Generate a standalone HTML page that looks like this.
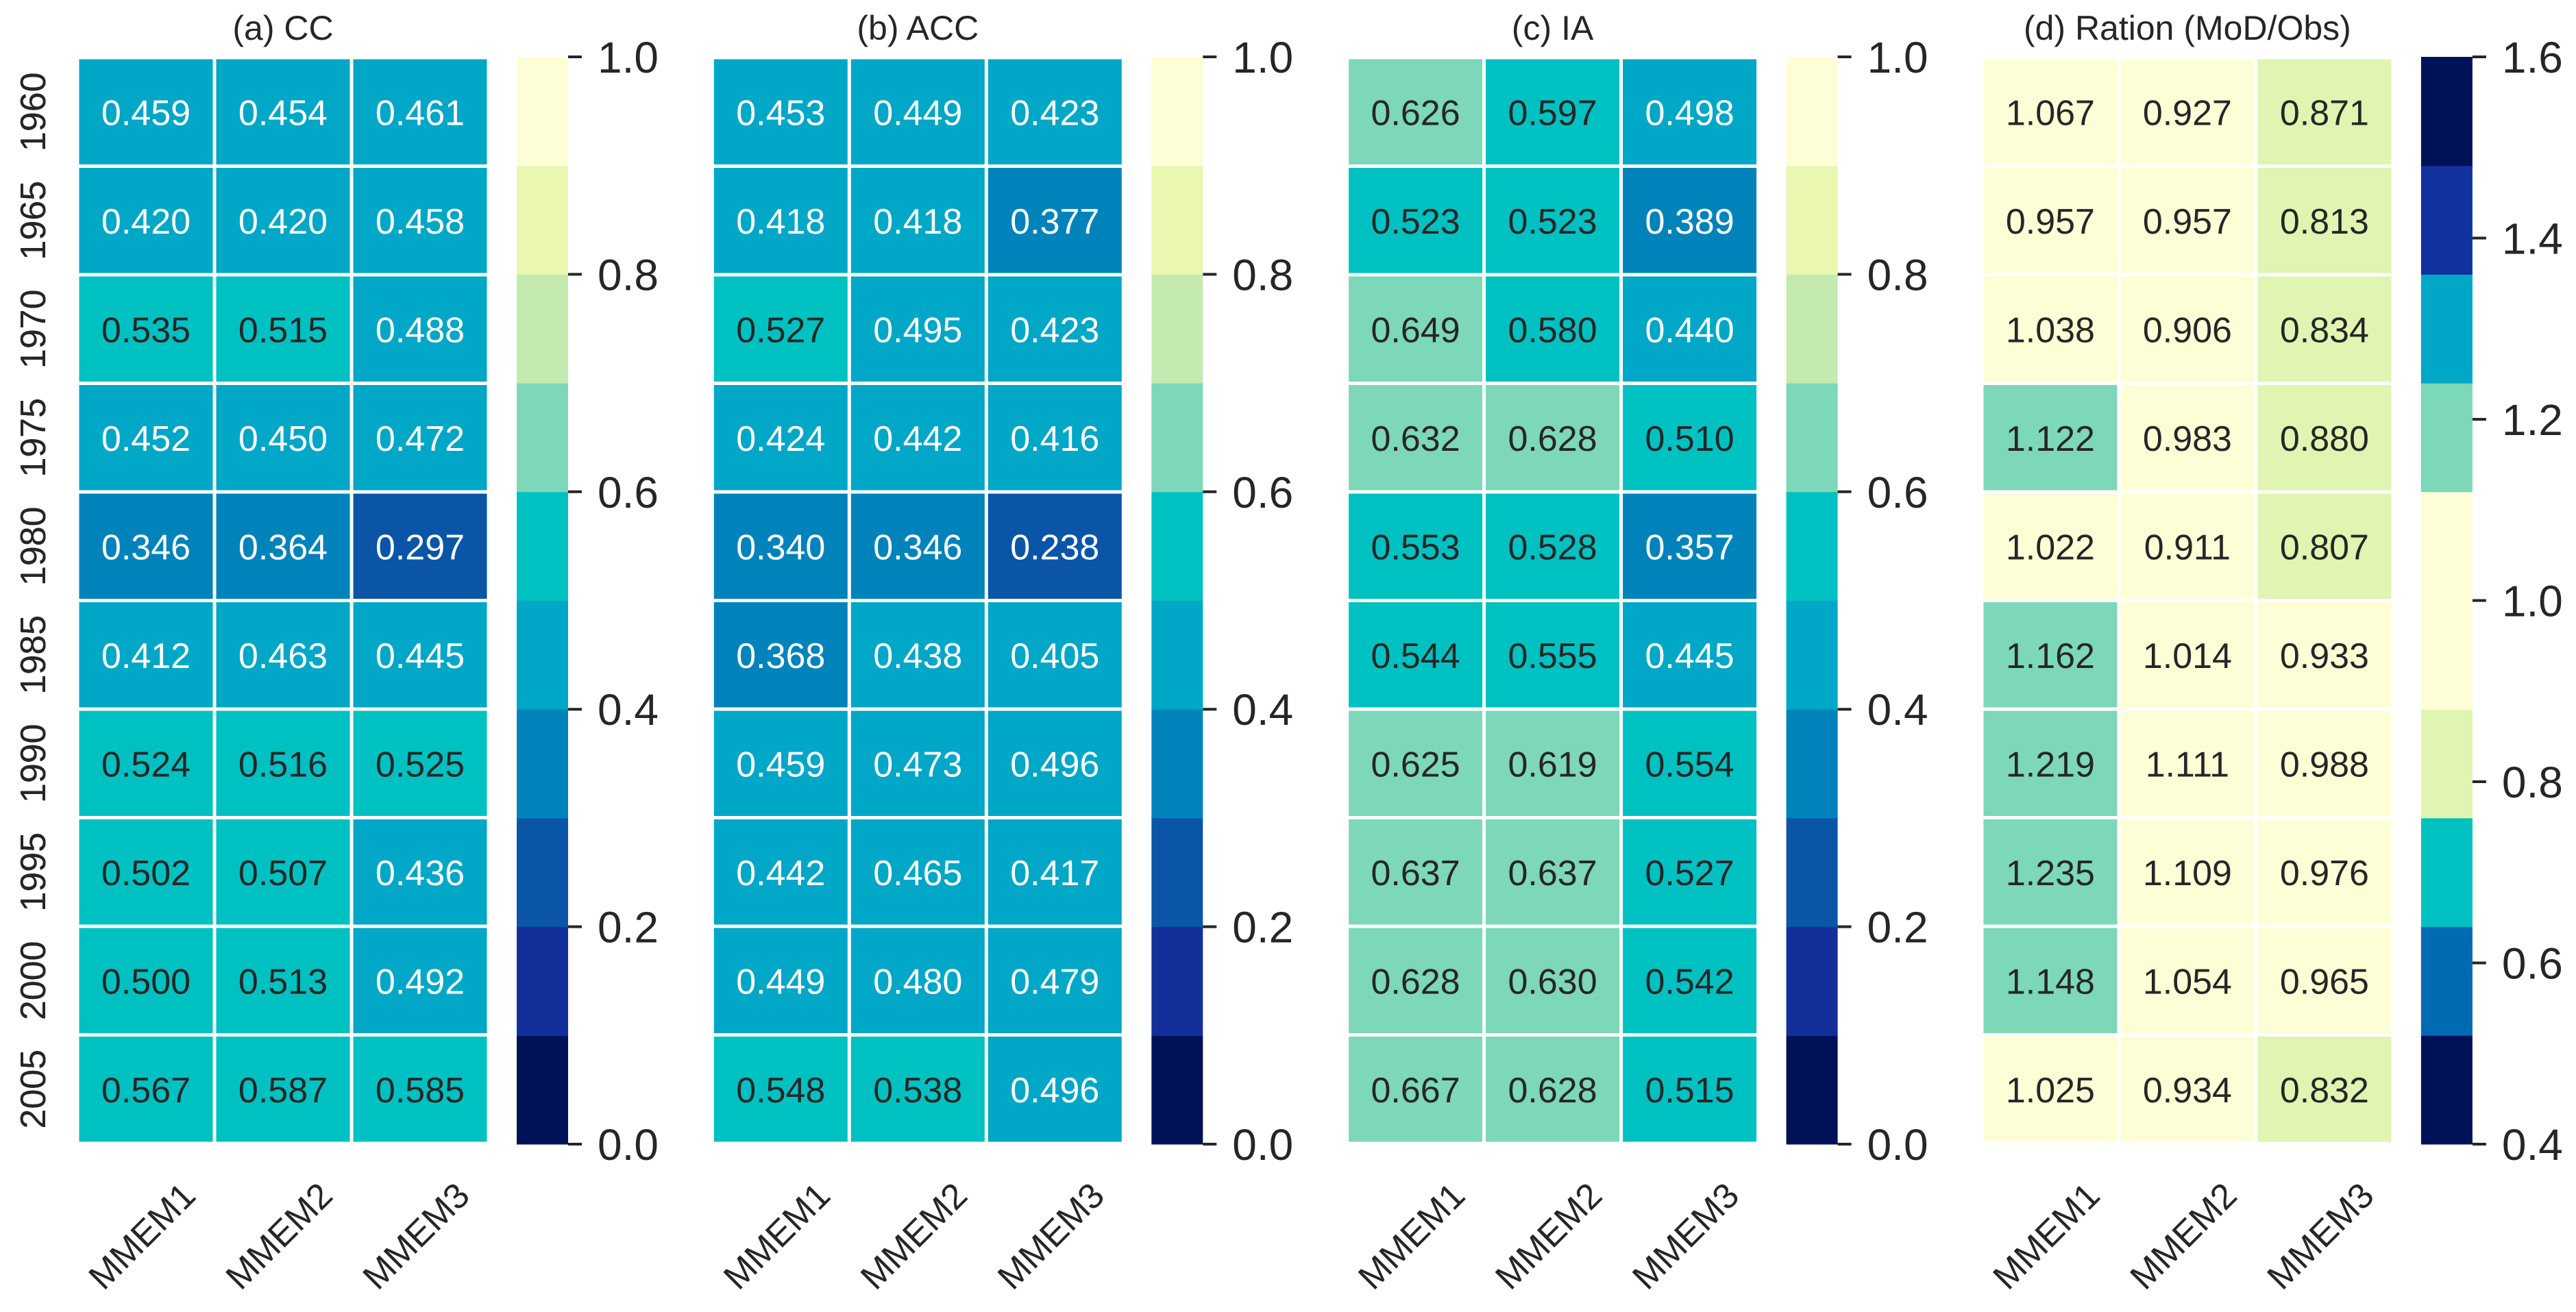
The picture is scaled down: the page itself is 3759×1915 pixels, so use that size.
<!DOCTYPE html>
<html><head><meta charset="utf-8">
<style>
html,body{margin:0;padding:0;background:#fff;}
svg{display:block;font-family:"Liberation Sans",Arial,sans-serif;}
</style></head>
<body>
<svg id="chart" width="3759" height="1915" viewBox="0 0 3759 1915" xmlns="http://www.w3.org/2000/svg"></svg>
<script>
const years = ["1960","1965","1970","1975","1980","1985","1990","1995","2000","2005"];
const models = ["MMEM1","MMEM2","MMEM3"];
const titles = ["(a) CC","(b) ACC","(c) IA","(d) Ration (MoD/Obs)"];
const valuesCC = [[0.459,0.454,0.461],[0.420,0.420,0.458],[0.535,0.515,0.488],[0.452,0.450,0.472],[0.346,0.364,0.297],[0.412,0.463,0.445],[0.524,0.516,0.525],[0.502,0.507,0.436],[0.500,0.513,0.492],[0.567,0.587,0.585]];
const valuesACC = [[0.453,0.449,0.423],[0.418,0.418,0.377],[0.527,0.495,0.423],[0.424,0.442,0.416],[0.340,0.346,0.238],[0.368,0.438,0.405],[0.459,0.473,0.496],[0.442,0.465,0.417],[0.449,0.480,0.479],[0.548,0.538,0.496]];
const valuesIA = [[0.626,0.597,0.498],[0.523,0.523,0.389],[0.649,0.580,0.440],[0.632,0.628,0.510],[0.553,0.528,0.357],[0.544,0.555,0.445],[0.625,0.619,0.554],[0.637,0.637,0.527],[0.628,0.630,0.542],[0.667,0.628,0.515]];
const valuesRatio = [[1.067,0.927,0.871],[0.957,0.957,0.813],[1.038,0.906,0.834],[1.122,0.983,0.880],[1.022,0.911,0.807],[1.162,1.014,0.933],[1.219,1.111,0.988],[1.235,1.109,0.976],[1.148,1.054,0.965],[1.025,0.934,0.832]];
const ticksABC = [0.0,0.2,0.4,0.6,0.8,1.0];
const ticksD = [0.4,0.6,0.8,1.0,1.2,1.4,1.6];
const rangeABC = [0.0,1.0];
const rangeD = [0.4,1.6];
// colors from low to high bins
const colorsABC = ["#001257","#13309a","#0a55a8","#0083bb","#00a7c7","#00c1c1","#7dd7b9","#c4eab0","#eaf7b0","#fdfed6"];
const colorsD = ["#001257","#006ab3","#00c1c1","#e0f5b1","#fdfed6","#fdfed6","#7dd7b9","#00a7c7","#11319c","#001257"];
const darkTextABC = [0,0,0,0,0,1,1,1,1,1];
const darkTextD = [0,0,1,1,1,1,1,0,0,0];

const svg = document.getElementById('chart');
const NS = "http://www.w3.org/2000/svg";
function mk(tag, attrs, parent){const e=document.createElementNS(NS,tag);for(const k in attrs)e.setAttribute(k,attrs[k]);(parent||svg).appendChild(e);return e;}

const panels = [
 {vals:valuesCC, colors:colorsABC, dark:darkTextABC, range:rangeABC, ticks:ticksABC, name:'cc'},
 {vals:valuesACC, colors:colorsABC, dark:darkTextABC, range:rangeABC, ticks:ticksABC, name:'acc'},
 {vals:valuesIA, colors:colorsABC, dark:darkTextABC, range:rangeABC, ticks:ticksABC, name:'ia'},
 {vals:valuesRatio, colors:colorsD, dark:darkTextD, range:rangeD, ticks:ticksD, name:'ratio'}
];
const top0 = 84, bottom0 = 1669, colW = 200, pitch = 926.3, left0 = 113;
const rowH = (bottom0-top0)/years.length;

panels.forEach((p,pi)=>{
  const x0 = left0 + pi*pitch;
  const g = mk('g',{});
  
  
  const nb = p.colors.length;
  const step = (p.range[1]-p.range[0])/nb;
  const bin = v => Math.max(0, Math.min(nb-1, Math.floor((v-p.range[0])/step)));
  const xS = j => x0 + j*colW;
  const yS = i => top0 + i*rowH;
  // title
  const t = mk('text',{x:x0+colW*1.5, y:58, 'text-anchor':'middle','font-size':50, fill:'#262626'}, g);
  t.textContent = titles[pi];
  
  
  // cells
  p.vals.forEach((row,i)=>{
    row.forEach((v,j)=>{
      const b = bin(v);
      const r = mk('rect',{x:xS(j)+2.5, y:yS(i)+2.5, width:colW-5, height:rowH-5, fill:p.colors[b]}, g);
      
      
      const tx = mk('text',{x:xS(j)+colW/2, y:yS(i)+rowH/2+19, 'text-anchor':'middle','font-size':52, fill:p.dark[b]?'#262626':'#ffffff'}, g);
      tx.textContent = v.toFixed(3);
      
      
    });
  });
  // year labels
  years.forEach((yr,i)=>{
    const cy = yS(i)+rowH/2, cx = 66;
    const yl = mk('text',{x:cx, y:cy, 'text-anchor':'middle','font-size':52, fill:'#262626', transform:'rotate(-90 '+cx+' '+cy+')'}, g);
    yl.textContent = yr;
    
    
  });
  // model labels
  models.forEach((m,j)=>{
    const cx = xS(j)+colW/2-6, cy = 1822;
    const ml = mk('text',{x:cx, y:cy, 'text-anchor':'middle','font-size':52, fill:'#262626', transform:'rotate(-45 '+cx+' '+(cy-18)+')'}, g);
    ml.textContent = m;
    
    
  });
  // colorbar
  const cbx = x0 + 641, cbw = 75, cbTop = 83, cbBot = 1670;
  const cbY = v => cbBot - (v-p.range[0])/(p.range[1]-p.range[0])*(cbBot-cbTop);
  const cb = mk('g',{}, g);
  
  
  p.colors.forEach((c,k)=>{
    const lo = p.range[0]+k*step, hi = lo+step;
    const s = mk('rect',{x:cbx, y:cbY(hi), width:cbw, height:cbY(lo)-cbY(hi)+0.5, fill:c}, cb);
    
    
  });
  p.ticks.forEach(tv=>{
    const ty = cbY(tv);
    const tk = mk('line',{x1:cbx+cbw, x2:cbx+cbw+20, y1:ty, y2:ty, stroke:'#262626','stroke-width':4}, cb);
    
    
    const tl = mk('text',{x:cbx+cbw+43, y:ty+23, 'font-size':64, fill:'#262626'}, cb);
    tl.textContent = tv.toFixed(1);
    
    
  });
});
</script>
</body></html>
